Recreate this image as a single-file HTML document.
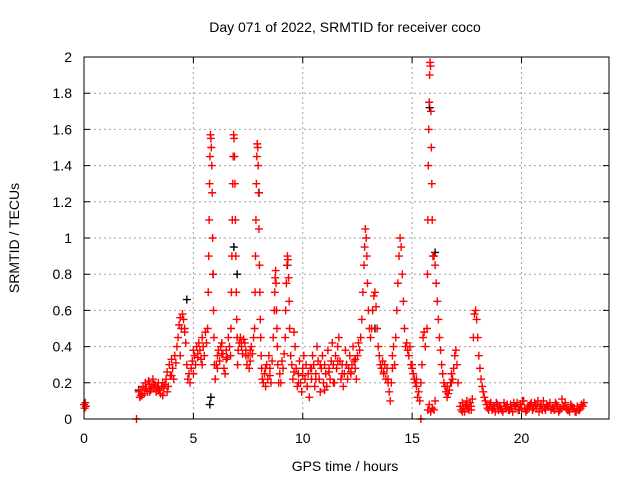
<!DOCTYPE html>
<html><head><meta charset="utf-8"><style>
body{margin:0;background:#fff;}
svg{display:block;font-family:"Liberation Sans",sans-serif;}
</style></head><body>
<svg id="chart" width="640" height="480">
<text x="345" y="32" text-anchor="middle" font-size="14">Day 071 of 2022, SRMTID for receiver coco</text>
<text x="345" y="471" text-anchor="middle" font-size="14">GPS time / hours</text>
<text transform="translate(19,238) rotate(-90)" text-anchor="middle" font-size="14">SRMTID / TECUs</text>
<g id="grid"></g><g id="ticks"></g><g id="marks"></g>
<rect x="84" y="57" width="525" height="362" fill="none" stroke="#000" stroke-width="1"/>
</svg>
<script>
const xTicks=[0,5,10,15,20];
const yTicks=[0,0.2,0.4,0.6,0.8,1,1.2,1.4,1.6,1.8,2];
const yTickLabels=["0","0.2","0.4","0.6","0.8","1","1.2","1.4","1.6","1.8","2"];
const gpsHours=[0,0.03,0.06,0.09,2.4,
2.5,2.55,2.6,2.65,2.7,2.75,2.8,2.85,2.9,2.95,3.0,3.05,3.1,3.15,3.2,3.25,3.3,3.35,3.4,3.45,3.5,3.55,3.6,3.65,3.7,3.75,3.8,3.85,3.9,3.95,4.0,4.05,4.1,4.15,4.2,
4.25,4.3,4.35,4.4,4.45,4.5,4.55,4.6,4.65,4.7,4.75,4.8,4.85,4.9,4.95,5.0,5.05,5.1,5.15,5.2,5.25,5.3,5.35,5.4,5.45,5.5,5.55,5.6,
5.65,5.68,5.7,5.72,5.74,5.76,5.78,5.8,5.82,5.84,5.86,5.88,5.9,5.92,5.94,5.96,
6.0,6.05,6.1,6.15,6.2,6.25,6.3,6.35,6.4,6.45,6.5,6.55,6.6,6.65,
6.7,6.72,6.74,6.76,6.78,6.8,6.82,6.84,6.86,6.88,6.9,6.92,6.94,6.96,6.98,7.0,7.02,
7.05,7.1,7.15,7.2,7.25,7.3,7.35,7.4,7.45,7.5,7.55,7.6,7.65,7.7,7.75,
7.8,7.82,7.84,7.86,7.88,7.9,7.92,7.94,7.96,7.98,8.0,8.02,8.04,8.06,8.08,8.1,8.12,8.15,
8.2,8.25,8.3,8.35,8.4,8.45,8.5,8.55,8.6,
8.65,8.7,8.72,8.74,8.76,8.78,8.8,8.82,8.84,8.86,8.9,
8.95,9.0,9.05,9.1,9.15,9.2,
9.22,9.25,9.28,9.3,9.32,9.35,9.38,9.4,9.45,
9.5,9.55,9.6,9.65,9.7,9.75,9.8,9.85,9.9,9.95,10.0,10.05,10.1,10.15,10.2,10.25,10.3,10.35,10.4,10.45,10.5,10.55,10.6,10.65,10.7,10.75,10.8,10.85,10.9,10.95,11.0,11.05,11.1,11.15,11.2,11.25,11.3,11.35,11.4,11.45,11.5,11.55,11.6,11.65,11.7,11.75,11.8,11.85,11.9,11.95,12.0,12.05,12.1,12.15,12.2,12.25,12.3,12.35,12.4,12.45,12.5,12.55,12.6,
12.65,12.7,12.75,12.8,12.83,12.86,12.9,12.93,12.96,13.0,13.05,13.1,
13.15,13.2,13.25,13.3,13.35,13.4,13.45,13.5,
13.55,13.6,13.65,13.7,13.75,13.8,13.85,13.9,13.95,14.0,14.05,14.1,14.15,14.2,
14.25,14.3,14.35,14.4,14.45,14.5,14.55,14.6,14.65,14.7,
14.75,14.8,14.85,14.9,14.95,15.0,15.05,15.1,15.15,15.2,15.25,15.3,15.35,15.4,15.45,15.5,15.55,15.6,
15.68,15.7,15.72,15.74,15.76,15.78,15.8,15.82,15.84,15.86,15.88,15.9,15.92,15.95,
15.4,15.72,15.78,15.85,15.92,16.0,16.05,
16.0,16.05,16.1,16.15,16.2,16.25,16.3,16.35,16.4,16.45,16.5,
16.55,16.6,16.65,16.7,16.75,16.8,16.85,16.9,16.95,17.0,17.05,17.1,
17.2,17.25,17.3,17.35,17.4,17.45,17.5,17.55,17.6,17.65,17.7,17.75,
17.8,17.85,17.9,17.95,18.0,18.05,18.1,18.15,18.2,18.25,18.3,18.35,18.4,
18.45,18.55,18.65,18.75,18.85,18.95,19.05,19.15,19.25,19.35,19.45,19.55,19.65,19.75,19.85,19.95,20.05,20.15,20.25,20.35,20.45,20.55,20.65,20.75,20.85,20.95,21.05,21.15,21.25,21.35,21.45,21.55,21.65,21.75,21.85,21.95,22.05,22.15,22.25,22.35,22.45,22.55,22.65,22.75,22.85];
const srmtid=[0.08,0.06,0.09,0.07,0.0,
.15,.12,.16,.13,.18,.14,.20,.17,.15,.21,.19,.16,.18,.22,.17,.19,.15,.18,.20,.16,.14,.18,.13,.17,.19,.22,.26,.18,.30,.24,.33,.28,.22,.35,.31,
.40,.45,.52,.56,.50,.58,.55,.48,.42,.30,.22,.25,.20,.28,.32,.38,.35,.30,.40,.36,.42,.38,.33,.45,.40,.35,.48,.42,
.5,.7,.9,1.1,1.3,1.45,1.57,1.55,1.5,1.4,1.25,1.0,.8,.6,.45,.3,
.22,.30,.35,.38,.32,.40,.42,.36,.28,.25,.38,.34,.45,.40,
.35,.5,.7,.9,1.1,1.3,1.45,1.57,1.55,1.45,1.3,1.1,.9,.7,.55,.45,.3,
.38,.42,.45,.40,.36,.44,.42,.38,.30,.35,.28,.32,.40,.36,.45,
.5,.7,.9,1.1,1.3,1.45,1.52,1.5,1.4,1.25,1.05,.85,.7,.55,.45,.35,.28,.22,
.20,.25,.18,.30,.22,.35,.28,.20,.32,
.45,.6,.7,.78,.82,.75,.6,.5,.4,.3,.2,
.25,.2,.32,.28,.36,.45,
.6,.75,.85,.9,.88,.78,.65,.5,.35,
.30,.22,.48,.40,.28,.18,.25,.32,.20,.15,.28,.35,.22,.30,.18,.25,.12,.28,.22,.35,.30,.18,.25,.40,.32,.22,.15,.28,.35,.20,.30,.25,.18,.38,.28,.22,.32,.42,.30,.20,.35,.28,.40,.45,.32,.22,.30,.18,.25,.38,.30,.22,.28,.35,.25,.30,.40,.32,.28,.22,.35,.42,.38,
.45,.55,.7,.85,.95,1.05,1.0,.9,.75,.6,.5,.45,
.5,.6,.68,.7,.62,.5,.4,.35,
.3,.28,.32,.25,.3,.22,.28,.2,.15,.1,.2,.35,.4,.3,
.45,.6,.75,.9,1.0,.95,.8,.65,.5,.4,
.42,.38,.35,.4,.3,.28,.25,.22,.2,.18,.12,.15,.1,.2,.3,.45,.48,.4,
.5,.8,1.1,1.4,1.6,1.75,1.9,1.97,1.95,1.7,1.5,1.3,1.1,.9,
0,.05,.08,.04,.06,.05,.1,
.9,.85,.75,.65,.55,.45,.38,.3,.25,.2,.18,
.15,.12,.14,.16,.2,.25,.22,.28,.35,.38,.3,.2,
.07,.05,.09,.06,.04,.08,.1,.06,.05,.09,.07,.11,
.45,.58,.6,.55,.45,.35,.28,.22,.18,.15,.12,.1,.08,
.06,.08,.05,.07,.09,.05,.06,.04,.07,.08,.05,.06,.09,.07,.05,.08,.10,.06,.05,.07,.09,.06,.08,.10,.07,.05,.06,.08,.07,.05,.06,.09,.07,.05,.11,.07,.06,.05,.08,.06,.04,.07,.05,.08,.09];
const extraHours=[2.6,2.8,3.0,3.2,3.4,3.6,3.8,4.0,4.4,4.6,5.0,5.2,5.4,6.1,6.3,6.5,7.2,7.4,7.6,8.3,8.5,9.6,9.8,10.0,10.2,10.4,10.6,10.8,11.0,11.2,11.4,11.6,11.8,12.0,12.2,12.4,13.7,13.9,14.1,15.0,15.2,16.6,16.8,17.3,17.5,17.7,
18.5,18.6,18.7,18.8,18.9,19.0,19.1,19.2,19.3,19.4,19.5,19.6,19.7,19.8,19.9,20.0,20.1,20.2,20.3,20.4,20.5,20.6,20.7,20.8,20.9,21.0,21.1,21.2,21.3,21.4,21.5,21.6,21.7,21.8,21.9,22.0,22.1,22.2,22.3,22.4,22.5,22.6,22.7,22.8];
const extraVals=[.13,.17,.15,.19,.16,.2,.15,.24,.35,.5,.25,.34,.3,.28,.36,.33,.42,.35,.38,.28,.24,.26,.2,.24,.18,.28,.22,.3,.16,.26,.2,.32,.25,.3,.26,.33,.26,.22,.28,.3,.22,.18,.2,.04,.07,.05,
.05,.09,.06,.04,.08,.07,.05,.09,.06,.05,.08,.04,.07,.09,.05,.06,.1,.04,.07,.08,.05,.09,.06,.04,.08,.1,.05,.07,.09,.06,.05,.08,.04,.06,.07,.09,.05,.04,.07,.06,.04,.05,.06,.07];
const blackHours=[2.5,4.7,5.75,5.8,5.9,6.85,7.0,8.0,9.3,13.3,15.8,16.05];
const blackVals=[0.16,0.66,0.08,0.12,0.8,0.95,0.8,1.25,0.85,0.5,1.72,0.92];

const X0=84,X1=609,Y0=419,Y1=57,XMAX=24,YMAX=2;
const xs=v=>X0+(X1-X0)*v/XMAX;
const ys=v=>Y0-(Y0-Y1)*v/YMAX;
const NS="http://www.w3.org/2000/svg";
const grid=document.getElementById('grid'),ticks=document.getElementById('ticks'),marks=document.getElementById('marks');
function mk(tag,attrs,parent){const e=document.createElementNS(NS,tag);for(const k in attrs)e.setAttribute(k,attrs[k]);parent.appendChild(e);return e;}
yTicks.forEach((t,i)=>{
  const y=ys(t);
  if(t>0&&t<YMAX){const g=mk('line',{x1:X0,x2:X1,y1:y,y2:y,stroke:'#a0a0a0','stroke-dasharray':'2,3'},grid);
  
  }
  const tk=mk('path',{d:`M${X0} ${y}h6M${X1} ${y}h-6`,stroke:'#000'},ticks);
  
  
  const l=mk('text',{x:X0-12,y:y+5,'text-anchor':'end','font-size':'14'},ticks);
  l.textContent=yTickLabels[i];
  
  
});
xTicks.forEach(t=>{
  const x=xs(t);
  if(t>0){const g=mk('line',{x1:x,x2:x,y1:Y1,y2:Y0,stroke:'#a0a0a0','stroke-dasharray':'2,3'},grid);
  
  }
  const tk=mk('path',{d:`M${x} ${Y0}v-6M${x} ${Y1}v6`,stroke:'#000'},ticks);
  
  
  const l=mk('text',{x:x,y:Y0+24,'text-anchor':'middle','font-size':'14'},ticks);
  l.textContent=String(t);
  
  
});
function plus(h,v,color,name){
  const x=xs(h),y=ys(v);
  const p=mk('path',{d:`M${x-4} ${y}h8M${x} ${y-4}v8`,stroke:color,'stroke-width':1.4},marks);
  
  
}
blackHours.forEach((h,i)=>plus(h,blackVals[i],'#000','black-point'));
gpsHours.forEach((h,i)=>plus(h,srmtid[i],'#ff0000','srmtid-point'));
extraHours.forEach((h,i)=>plus(h,extraVals[i],'#ff0000','srmtid-point'));
</script>
</body></html>
